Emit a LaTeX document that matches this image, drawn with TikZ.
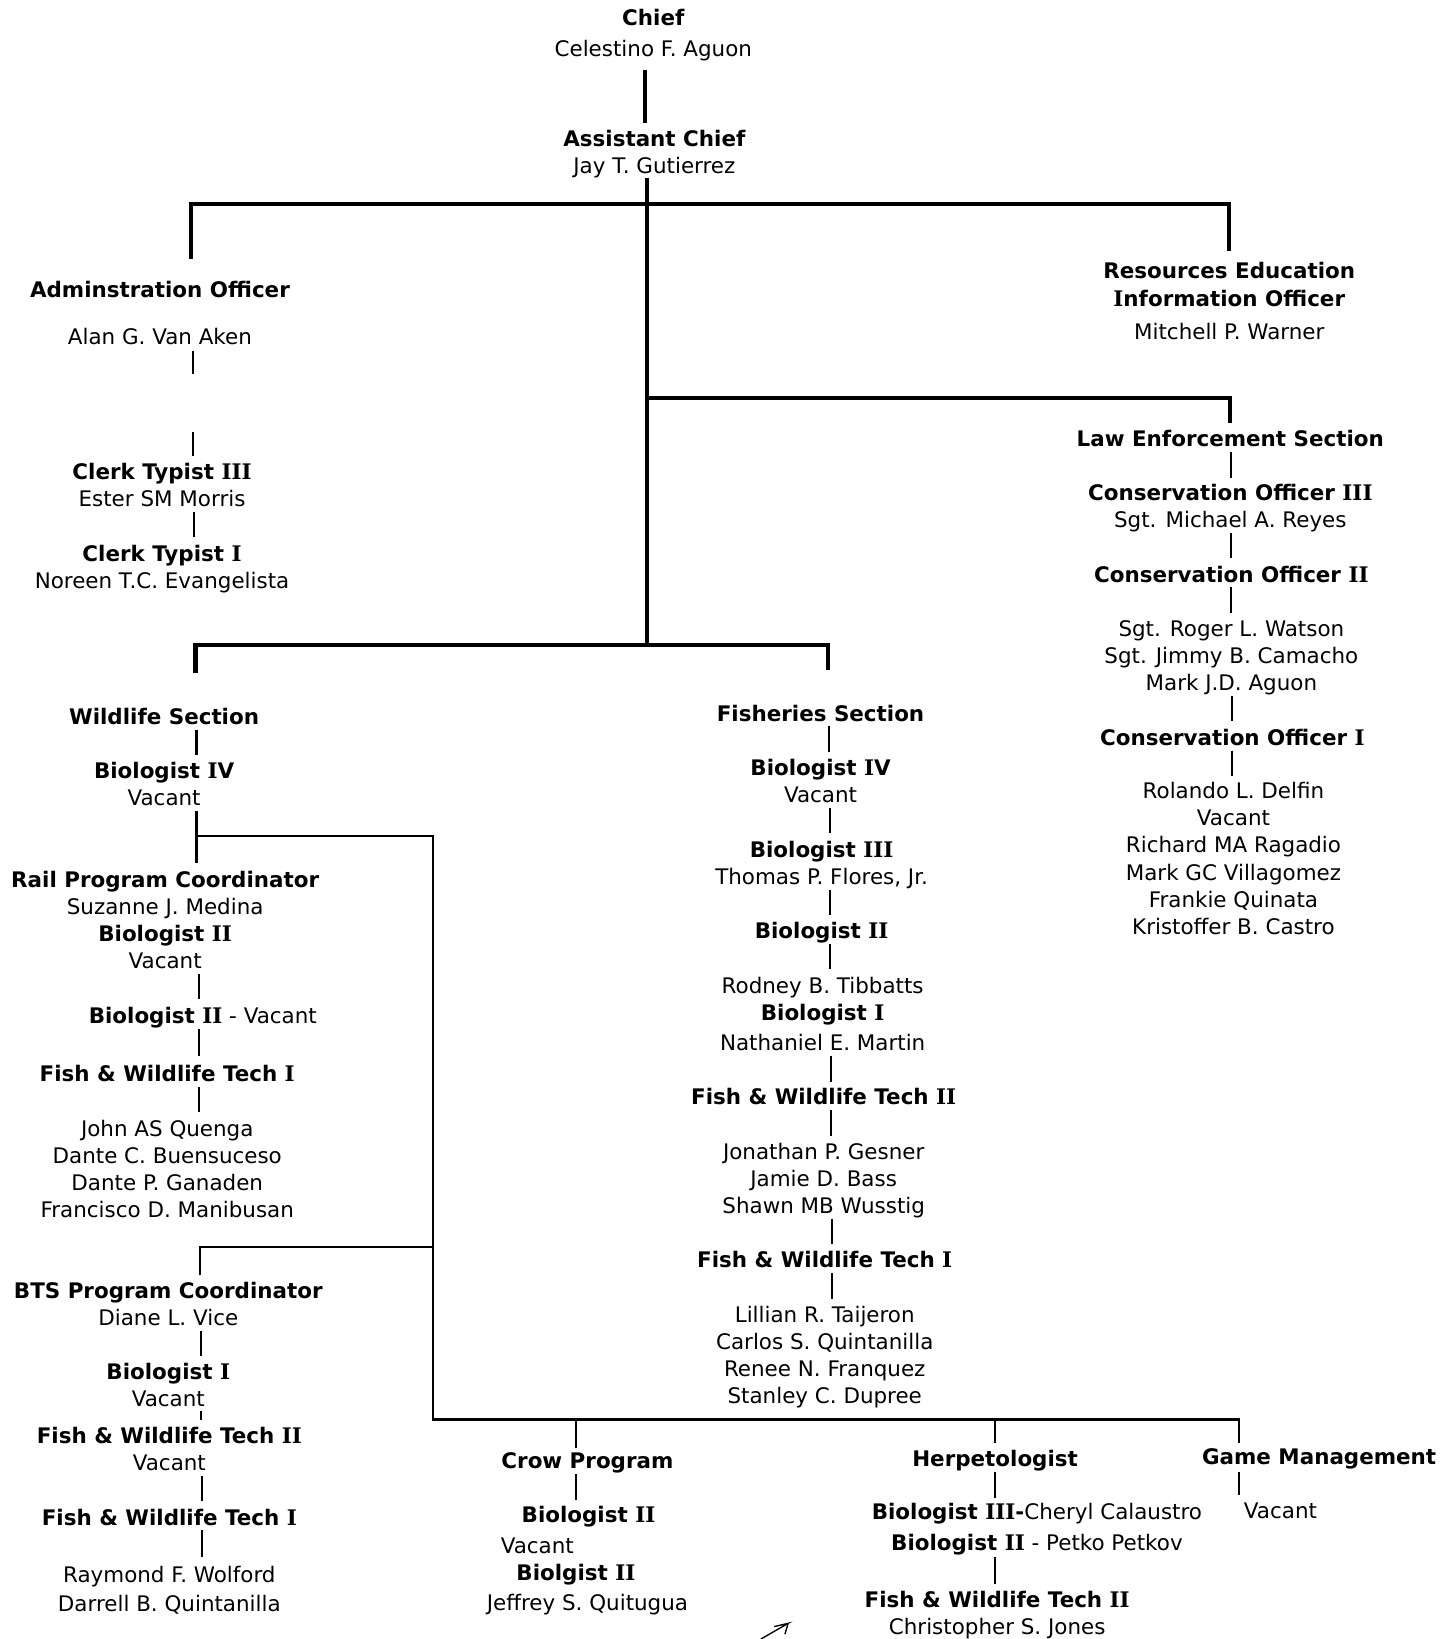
\documentclass[tikz,border=0pt]{standalone}
\usepackage{fontspec}
\setmainfont{DejaVu Sans}
\newfontfamily\slabfont{DejaVu Serif}
% capital I with slab serifs
\newcommand\sI{{\slabfont I}}
% short vertical link between two named coordinates
\newcommand\lnk[4]{\coordinate (#1a) at (#2,#3); \coordinate (#1b) at (#2,#4); \draw[link] (#1a) -- (#1b);}
\begin{document}
\begin{tikzpicture}[x=1pt,y=-1pt,
  every node/.style={inner sep=0pt, outer sep=0pt, anchor=base,
    font=\fontsize{20.5}{26}\selectfont},
  b/.style={font=\fontsize{20.5}{26}\selectfont\bfseries},
  bar/.style={line width=4pt},
  branch/.style={line width=2.2pt},
  link/.style={line width=2pt}]
\fill[white] (0,0) rectangle (1389,1568);
\useasboundingbox (0,0) rectangle (1389,1568);

% ---- top
\node[b] (chief)  at (625,24)  {Chief};
\node    (chiefn) at (625,54)  {Celestino F. Aguon};
\node[b] (asst)   at (626,140) {Assistant Chief};
\node    (asstn)  at (626,166) {Jay T. Gutierrez};

% ---- administration
\node[b] (admin)  at (153,285) {Adminstration Officer};
\node    (adminn) at (153,330) {Alan G. Van Aken};
\node[b] (ct3)    at (155,459) {Clerk Typist \sI\sI\sI};
\node    (ct3n)   at (155,485) {Ester SM Morris};
\node[b] (ct1)    at (155,537) {Clerk Typist \sI};
\node    (ct1n)   at (155,563) {Noreen T.C. Evangelista};

% ---- resources education
\node[b] (reio1) at (1176,266) {Resources Education};
\node[b] (reio2) at (1176,293) {\sI nformation Officer};
\node    (reion) at (1176,325) {Mitchell P. Warner};

% ---- law enforcement
\node[b] (les)  at (1177,427) {Law Enforcement Section};
\node[b] (co3)  at (1177,479) {Conservation Officer \sI\sI\sI};
\node    (co3n) at (1177,505) {Sgt. Michael A. Reyes};
\node[b] (co2)  at (1178,557) {Conservation Officer \sI\sI};
\node    (co2a) at (1178,609) {Sgt. Roger L. Watson};
\node    (co2b) at (1178,635) {Sgt. Jimmy B. Camacho};
\node    (co2c) at (1178,661) {Mark J.D. Aguon};
\node[b] (co1)  at (1179,713) {Conservation Officer \sI};
\node    (co1a) at (1180,764) {Rolando L. Delfin};
\node    (co1b) at (1180,790) {Vacant};
\node    (co1c) at (1180,816) {Richard MA Ragadio};
\node    (co1d) at (1180,842) {Mark GC Villagomez};
\node    (co1e) at (1180,868) {Frankie Quinata};
\node    (co1f) at (1180,894) {Kristoffer B. Castro};

% ---- wildlife
\node[b] (ws)    at (157,693)  {Wildlife Section};
\node[b] (wb4)   at (157,745)  {Biologist \sI V};
\node    (wb4n)  at (157,771)  {Vacant};
\node[b] (rail)  at (158,849)  {Rail Program Coordinator};
\node    (railn) at (158,875)  {Suzanne J. Medina};
\node[b] (wb2)   at (158,901)  {Biologist \sI\sI};
\node    (wb2n)  at (158,927)  {Vacant};
\node    (wb2b)  at (194,979)  {\textbf{Biologist \sI\sI} - Vacant};
\node[b] (wft1)  at (160,1035) {Fish \& Wildlife Tech \sI};
\node    (wft1a) at (160,1087) {John AS Quenga};
\node    (wft1b) at (160,1113) {Dante C. Buensuceso};
\node    (wft1c) at (160,1139) {Dante P. Ganaden};
\node    (wft1d) at (160,1165) {Francisco D. Manibusan};
\node[b] (bts)   at (161,1242) {BTS Program Coordinator};
\node    (btsn)  at (161,1268) {Diane L. Vice};
\node[b] (bb1)   at (161,1320) {Biologist \sI};
\node    (bb1n)  at (161,1346) {Vacant};
\node[b] (bft2)  at (162,1381) {Fish \& Wildlife Tech \sI\sI};
\node    (bft2n) at (162,1407) {Vacant};
\node[b] (bft1)  at (162,1459) {Fish \& Wildlife Tech \sI};
\node    (bft1a) at (162,1514) {Raymond F. Wolford};
\node    (bft1b) at (162,1542) {Darrell B. Quintanilla};

% ---- fisheries
\node[b] (fs)    at (785,690)  {Fisheries Section};
\node[b] (fb4)   at (785,742)  {Biologist \sI V};
\node    (fb4n)  at (785,768)  {Vacant};
\node[b] (fb3)   at (786,820)  {Biologist \sI\sI\sI};
\node    (fb3n)  at (786,846)  {Thomas P. Flores, Jr.};
\node[b] (fb2)   at (786,898)  {Biologist \sI\sI};
\node    (fb2n)  at (787,950)  {Rodney B. Tibbatts};
\node[b] (fb1)   at (787,976)  {Biologist \sI};
\node    (fb1n)  at (787,1005) {Nathaniel E. Martin};
\node[b] (fft2)  at (788,1057) {Fish \& Wildlife Tech \sI\sI};
\node    (fft2a) at (788,1109) {Jonathan P. Gesner};
\node    (fft2b) at (788,1135) {Jamie D. Bass};
\node    (fft2c) at (788,1161) {Shawn MB Wusstig};
\node[b] (fft1)  at (789,1213) {Fish \& Wildlife Tech \sI};
\node    (fft1a) at (789,1265) {Lillian R. Taijeron};
\node    (fft1b) at (789,1291) {Carlos S. Quintanilla};
\node    (fft1c) at (789,1317) {Renee N. Franquez};
\node    (fft1d) at (789,1343) {Stanley C. Dupree};

% ---- bottom programs
\node[b] (crow)  at (562,1405) {Crow Program};
\node[b] (cb2)   at (563,1457) {Biologist \sI\sI};
\node    (cb2n)  at (514,1486) {Vacant};
\node[b] (cb2b)  at (551,1512) {Biolgist \sI\sI};
\node    (cb2bn) at (562,1541) {Jeffrey S. Quitugua};
\node[b] (herp)  at (952,1403) {Herpetologist};
\node    (hb3)   at (992,1454) {\textbf{Biologist \sI\sI\sI-}Cheryl Calaustro};
\node    (hb2)   at (992,1483) {\textbf{Biologist \sI\sI} - Petko Petkov};
\node[b] (hft2)  at (954,1538) {Fish \& Wildlife Tech \sI\sI};
\node    (hft2n) at (954,1564) {Christopher S. Jones};
\node[b] (game)  at (1262,1401) {Game Management};
\node    (gamen) at (1225,1453) {Vacant};

% ---- main bars
\coordinate (trunkTop) at (619,170);
\coordinate (trunkBot) at (619,617);
\coordinate (topL) at (183,195);  \coordinate (topR) at (1176,195);
\coordinate (topLd) at (183,248); \coordinate (topRd) at (1176,240);
\coordinate (lawJ) at (619,381);  \coordinate (lawR) at (1177,381);
\coordinate (lawRd) at (1177,405);
\coordinate (secL) at (187,617);  \coordinate (secR) at (792,617);
\coordinate (secLd) at (187,644); \coordinate (secRd) at (792,641);
\draw[bar] (617,67) coordinate (c1) -- (617,118) coordinate (c2);
\draw[bar] (trunkTop) -- (trunkBot);
\draw[bar] (topLd) -- (topL) -- (topR) -- (topRd);
\draw[bar] (lawJ) -- (lawR) -- (lawRd);
\draw[bar] (secLd) -- (secL) -- (secR) -- (secRd);

% ---- wildlife branch network
\coordinate (wJ) at (188,800);  \coordinate (wJR) at (414,800);
\coordinate (bJ) at (414,1193); \coordinate (bJL) at (191,1193);
\coordinate (bJd) at (191,1220);
\coordinate (pL) at (414,1358); \coordinate (pR) at (1185,1358);
\coordinate (pCrow) at (551,1358); \coordinate (pHerp) at (952,1358);
\coordinate (pCrowd) at (551,1385); \coordinate (pHerpd) at (952,1380);
\coordinate (pRd) at (1185,1380);
\draw[link] (188,776) -- (188,826);
\draw[branch] (wJ) -- (wJR) -- (pL) -- (pR) -- (pRd);
\draw[branch] (bJd) -- (bJL) -- (bJ);
\draw[branch] (pCrow) -- (pCrowd);
\draw[branch] (pHerp) -- (pHerpd);

% ---- short links
\lnk{ad1}{185}{336}{358}
\lnk{ad2}{185}{413}{436}
\lnk{ad3}{186}{490}{514}
\lnk{le1}{1178}{432}{457}
\lnk{le2}{1178}{510}{534}
\lnk{le3}{1178}{562}{586}
\lnk{le4}{1179}{666}{690}
\lnk{le5}{1179}{718}{742}
\lnk{wl1}{188}{698}{722}
\lnk{wl2}{190}{932}{956}
\lnk{wl3}{190}{984}{1010}
\lnk{wl4}{190}{1040}{1064}
\lnk{bt1}{192}{1273}{1297}
\lnk{bt2}{192}{1350}{1358}
\lnk{bt3}{193}{1412}{1436}
\lnk{bt4}{193}{1464}{1490}
\lnk{fi1}{793}{695}{719}
\lnk{fi2}{794}{773}{797}
\lnk{fi3}{794}{851}{875}
\lnk{fi4}{794}{903}{927}
\lnk{fi5}{795}{1010}{1035}
\lnk{fi6}{795}{1062}{1087}
\lnk{fi7}{796}{1166}{1190}
\lnk{fi8}{796}{1218}{1243}
\lnk{cr1}{551}{1410}{1435}
\lnk{he1}{952}{1408}{1433}
\lnk{he2}{952}{1490}{1515}
\lnk{gm1}{1185}{1408}{1430}

% ---- pen stroke near the bottom edge
\draw[line width=1.3pt, line cap=round] (728,1568) -- (754,1553) -- (741,1556);
\draw[line width=1.3pt, line cap=round] (754,1553) -- (751,1563);
\end{tikzpicture}
\end{document}
